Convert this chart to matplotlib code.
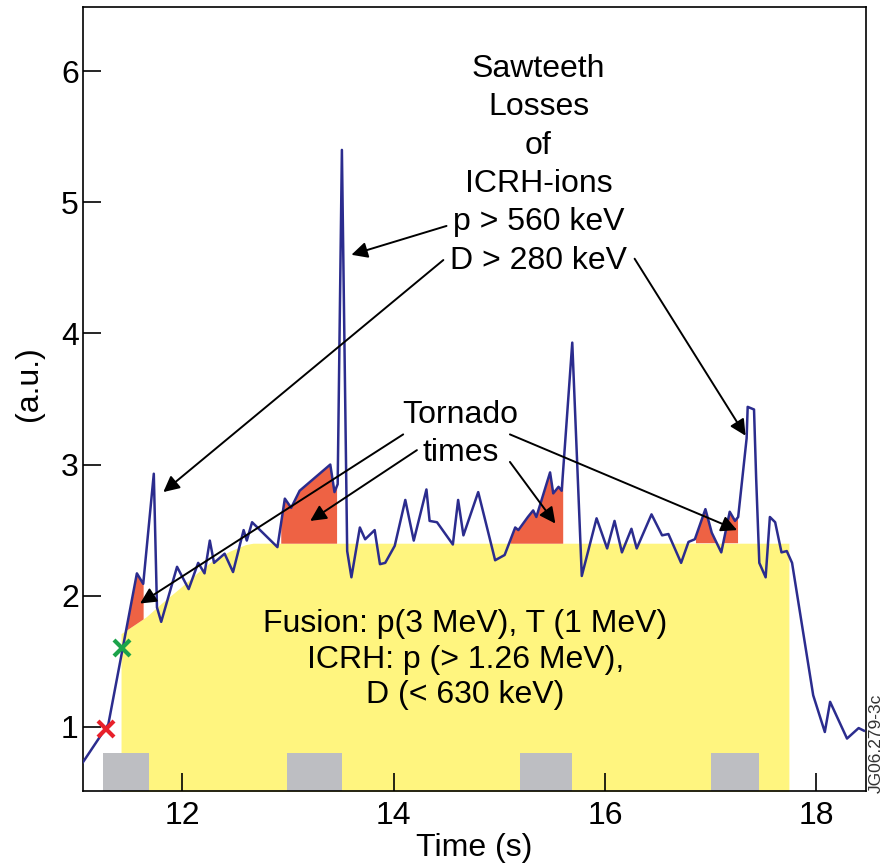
import numpy as np
import matplotlib
matplotlib.use("Agg")
import matplotlib.pyplot as plt

plt.rcParams['font.family'] = ['Liberation Sans', 'DejaVu Sans']

# signal trace (time in s, amplitude in a.u.)
t = [11.06, 11.30, 11.57, 11.63, 11.73, 11.76, 11.80, 11.95, 12.06, 12.15,
     12.21, 12.26, 12.30, 12.40, 12.48, 12.58, 12.61, 12.66, 12.90, 12.97,
     13.03, 13.11, 13.40, 13.44, 13.47, 13.51, 13.56, 13.60, 13.68, 13.73,
     13.82, 13.87, 13.92, 14.01, 14.11, 14.19, 14.31, 14.34, 14.41, 14.56,
     14.61, 14.66, 14.80, 14.96, 15.05, 15.15, 15.18, 15.27, 15.32, 15.35,
     15.48, 15.51, 15.56, 15.59, 15.69, 15.78, 15.92, 16.02, 16.09, 16.16,
     16.25, 16.30, 16.44, 16.54, 16.60, 16.72, 16.79, 16.85, 16.95, 17.01,
     17.10, 17.18, 17.23, 17.26, 17.34, 17.35, 17.41, 17.43, 17.46, 17.52,
     17.56, 17.61, 17.67, 17.72, 17.77, 17.97, 18.08, 18.13, 18.29, 18.40,
     18.45]
v = [0.73, 1.02, 2.17, 2.09, 2.93, 1.91, 1.80, 2.22, 2.05, 2.25,
     2.17, 2.42, 2.25, 2.32, 2.18, 2.50, 2.42, 2.56, 2.37, 2.74,
     2.67, 2.80, 3.00, 2.79, 2.85, 5.40, 2.34, 2.14, 2.52, 2.43,
     2.50, 2.24, 2.25, 2.38, 2.73, 2.42, 2.81, 2.57, 2.56, 2.39,
     2.73, 2.46, 2.79, 2.27, 2.31, 2.52, 2.50, 2.60, 2.65, 2.60,
     2.94, 2.78, 2.83, 2.80, 3.93, 2.15, 2.59, 2.36, 2.57, 2.33,
     2.51, 2.36, 2.62, 2.46, 2.47, 2.25, 2.41, 2.43, 2.66, 2.48,
     2.33, 2.64, 2.57, 2.60, 3.20, 3.44, 3.42, 2.90, 2.25, 2.14,
     2.60, 2.56, 2.33, 2.34, 2.25, 1.24, 0.96, 1.19, 0.91, 0.99,
     0.97]

# yellow "fusion / ICRH" envelope
env_t = [11.42, 11.55, 11.66, 11.80, 11.98, 12.15, 12.29, 12.45, 12.60, 12.67, 17.74]
env_v = [1.71, 1.78, 1.84, 1.94, 2.06, 2.18, 2.27, 2.34, 2.39, 2.40, 2.40]

# tornado intervals (red)
torn_start = [11.44, 12.93, 15.10, 16.86]
torn_end = [11.63, 13.46, 15.60, 17.26]

# grey boxes along the bottom
box_start = [11.25, 12.99, 15.20, 17.00]
box_end = [11.68, 13.51, 15.69, 17.46]
box_top = 0.8

ymin, ymax = 0.51, 6.49
fs = 23

fig = plt.figure(figsize=(8.82, 8.64), dpi=100)
ax = fig.add_axes([0.0941, 0.0845, 0.8878, 0.9074])

ax.fill_between(env_t, ymin - 0.1, env_v, color='#FFF57F', lw=0, zorder=1)

tt = np.linspace(t[0], t[-1], 6000)
vv = np.interp(tt, t, v)
base = np.interp(tt, env_t, env_v)
for s, e in zip(torn_start, torn_end):
    m = (tt >= s) & (tt <= e) & (vv > base)
    ax.fill_between(tt, base, vv, where=m, color='#EE6244', lw=0, zorder=2)

for s, e in zip(box_start, box_end):
    ax.bar(s, box_top - ymin + 0.1, width=e - s, bottom=ymin - 0.1,
           align='edge', color='#BDBEC2', lw=0, zorder=2)

ax.plot(t, v, color='#2B2C8E', lw=1.8, zorder=3)

ax.plot(11.28, 0.98, marker='x', ms=12, mew=3, color='#E8202A', zorder=4)
ax.plot(11.43, 1.60, marker='x', ms=12, mew=3, color='#1BA34A', zorder=4)

ap = dict(arrowstyle='-|>', mutation_scale=24, lw=1.4, color='black',
          shrinkA=0, shrinkB=0)
arrows = [
    ((14.50, 4.82), (13.60, 4.60)),
    ((14.47, 4.56), (11.82, 2.79)),
    ((16.28, 4.57), (17.33, 3.22)),
    ((14.09, 3.23), (11.60, 1.94)),
    ((14.22, 3.11), (13.21, 2.57)),
    ((15.10, 3.02), (15.53, 2.55)),
    ((15.10, 3.23), (17.25, 2.50)),
]
for tail, head in arrows:
    ax.annotate('', xy=head, xytext=tail, arrowprops=ap, zorder=5)

ax.text(15.37, 6.13, "Sawteeth\nLosses\nof\nICRH-ions\np > 560 keV\nD > 280 keV",
        ha='center', va='top', fontsize=fs, linespacing=1.36, zorder=6)
ax.text(14.63, 3.49, "Tornado\ntimes", ha='center', va='top', fontsize=fs,
        linespacing=1.33, zorder=6)
ax.text(14.68, 1.90, "Fusion: p(3 MeV), T (1 MeV)\nICRH: p (> 1.26 MeV),\nD (< 630 keV)",
        ha='center', va='top', fontsize=fs, linespacing=1.25, zorder=6)

ax.set_xlim(11.06, 18.47)
ax.set_ylim(ymin, ymax)
ax.set_xticks([12, 14, 16, 18])
ax.set_yticks([1, 2, 3, 4, 5, 6])
ax.tick_params(direction='in', length=13, width=1.2, labelsize=fs)
ax.tick_params(axis='x', pad=7)
ax.tick_params(axis='y', pad=3)
for sp in ax.spines.values():
    sp.set_linewidth(1.2)
ax.set_xlabel("Time (s)", fontsize=fs, labelpad=2)
ax.set_ylabel("(a.u.)", fontsize=fs)
ax.yaxis.set_label_coords(-0.05, 0.52)

fig.text(0.993, 0.082, "JG06.279-3c", rotation=90, ha='center', va='bottom',
         fontsize=12.5, color='#333333')

fig.savefig("out.png", dpi=100)
